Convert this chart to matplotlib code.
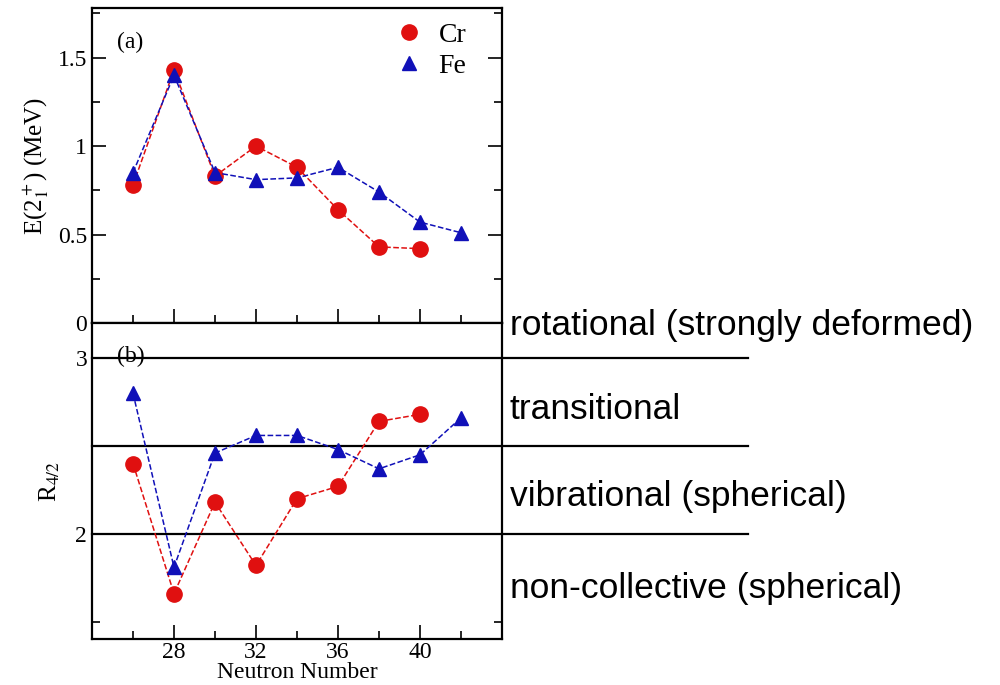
import matplotlib
matplotlib.use("Agg")
import matplotlib.pyplot as plt
from matplotlib.ticker import MultipleLocator

plt.rcParams["font.family"] = "Liberation Serif"
plt.rcParams["mathtext.fontset"] = "stix"

# neutron numbers
n_cr = [26, 28, 30, 32, 34, 36, 38, 40]
n_fe = [26, 28, 30, 32, 34, 36, 38, 40, 42]

# E(2+_1) in MeV
e2_cr = [0.78, 1.43, 0.83, 1.00, 0.88, 0.64, 0.43, 0.42]
e2_fe = [0.85, 1.40, 0.85, 0.81, 0.82, 0.88, 0.74, 0.57, 0.51]

# R_4/2 ratio
r42_cr = [2.40, 1.66, 2.18, 1.82, 2.20, 2.27, 2.64, 2.68]
r42_fe = [2.80, 1.81, 2.46, 2.56, 2.56, 2.48, 2.37, 2.45, 2.66]

# regime boundaries for R_4/2 and the regime names
bounds = [3.0, 2.5, 2.0]
regimes = ["rotational (strongly deformed)", "transitional",
           "vibrational (spherical)", "non-collective (spherical)"]
regime_y = [0.5255, 0.4015, 0.2745, 0.1415]

red = "#e01010"
blue = "#1010b8"

fig = plt.figure(figsize=(10, 6.85), dpi=100)
ax1 = fig.add_axes([0.092, 0.5285, 0.41, 0.4598])
ax2 = fig.add_axes([0.092, 0.0667, 0.41, 0.4618])

ax1.plot(n_cr, e2_cr, "--o", color=red, mfc=red, mec=red, ms=11, lw=1.1,
         label="Cr")
ax1.plot(n_fe, e2_fe, "--^", color=blue, mfc=blue, mec=blue, ms=10.5, lw=1.1,
         label="Fe")
ax1.set_ylim(0, 1.78)
ax1.set_yticks([0, 0.5, 1, 1.5])
ax1.set_yticklabels(["0", "0.5", "1", "1.5"])
ax1.yaxis.set_minor_locator(MultipleLocator(0.25))
ax1.set_ylabel(r"E(2$_1^+$) (MeV)", fontsize=18, labelpad=5)
ax1.text(0.06, 0.89, "(a)", transform=ax1.transAxes, fontsize=17,
         va="center")
leg = ax1.legend(loc="upper right", bbox_to_anchor=(0.94, 0.99),
                 frameon=False, fontsize=20, handlelength=0.9,
                 handletextpad=0.6, borderaxespad=0.0, labelspacing=0.2)
for h in leg.legend_handles:
    h.set_linestyle("")

ax2.plot(n_cr, r42_cr, "--o", color=red, mfc=red, mec=red, ms=11, lw=1.1)
ax2.plot(n_fe, r42_fe, "--^", color=blue, mfc=blue, mec=blue, ms=10.5, lw=1.1)
ax2.set_ylim(1.4, 3.2)
ax2.set_yticks([2, 3])
ax2.yaxis.set_minor_locator(MultipleLocator(0.5))
ax2.set_ylabel(r"R$_{4/2}$", fontsize=18, labelpad=10)
ax2.set_xlabel("Neutron Number", fontsize=17, labelpad=-1)
ax2.text(0.06, 0.895, "(b)", transform=ax2.transAxes, fontsize=17,
         va="center")

for b in bounds:
    ax2.axhline(b, xmin=0, xmax=1.6, color="black", lw=1.6, clip_on=False,
                zorder=1)

for ax in (ax1, ax2):
    ax.set_xlim(24, 44)
    ax.set_xticks([28, 32, 36, 40])
    ax.xaxis.set_minor_locator(MultipleLocator(2))
    ax.tick_params(which="both", direction="in", right=True, top=False,
                   labelsize=17, width=1.2)
    ax.tick_params(which="major", length=10)
    ax.tick_params(which="minor", length=6)
    for s in ax.spines.values():
        s.set_linewidth(1.6)
ax1.tick_params(labelbottom=False)
ax2.tick_params(axis="x", pad=2)

for name, y in zip(regimes, regime_y):
    fig.text(0.51, y, name, fontsize=25.5, family="Liberation Sans",
             va="center", ha="left")

fig.savefig("out.png", dpi=100)
